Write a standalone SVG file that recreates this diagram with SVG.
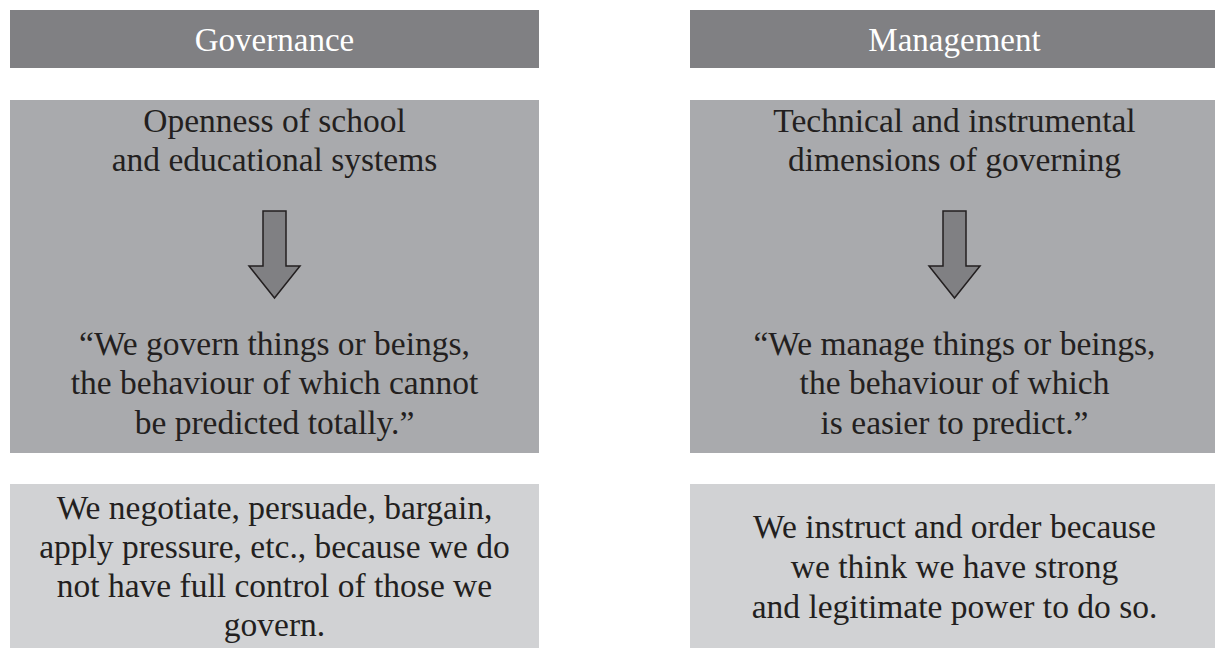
<svg xmlns="http://www.w3.org/2000/svg" width="1215" height="648" viewBox="0 0 1215 648">
<style>
.hdr{fill:#808083}
.mid{fill:#a9aaad}
.low{fill:#d1d2d4}
.ht{font-family:"Liberation Serif",serif;font-size:33px;fill:#ffffff;text-anchor:middle}
.bt{font-family:"Liberation Serif",serif;font-size:33.5px;fill:#231f20;text-anchor:middle}
.arr{fill:#808083;stroke:#231f20;stroke-width:1.5;stroke-linejoin:miter}
</style>
<rect width="1215" height="648" fill="#ffffff"/>
<g id="governance-header">
<rect class="hdr" x="10" y="10" width="529" height="58"/>
<text class="ht" x="274.5" y="51">Governance</text>
</g>
<g id="management-header">
<rect class="hdr" x="690" y="10" width="529" height="58"/>
<text class="ht" x="954.5" y="51">Management</text>
</g>
<g id="governance-main">
<rect class="mid" x="10" y="100" width="529" height="353"/>
<text class="bt" x="274.5" y="132">Openness of school</text>
<text class="bt" x="274.5" y="171">and educational systems</text>
<text class="bt" x="274.5" y="355">“We govern things or beings,</text>
<text class="bt" x="274.5" y="394">the behaviour of which cannot</text>
<text class="bt" x="274.5" y="434">be predicted totally.”</text>
</g>
<g id="management-main">
<rect class="mid" x="690" y="100" width="529" height="353"/>
<text class="bt" x="954.5" y="132">Technical and instrumental</text>
<text class="bt" x="954.5" y="171">dimensions of governing</text>
<text class="bt" x="954.5" y="355">“We manage things or beings,</text>
<text class="bt" x="954.5" y="394">the behaviour of which</text>
<text class="bt" x="954.5" y="434">is easier to predict.”</text>
</g>
<g id="governance-bottom">
<rect class="low" x="10" y="484" width="529" height="170"/>
<text class="bt" x="274.5" y="519">We negotiate, persuade, bargain,</text>
<text class="bt" x="274.5" y="558">apply pressure, etc., because we do</text>
<text class="bt" x="274.5" y="597">not have full control of those we</text>
<text class="bt" x="274.5" y="636">govern.</text>
</g>
<g id="management-bottom">
<rect class="low" x="690" y="484" width="529" height="170"/>
<text class="bt" x="954.5" y="538">We instruct and order because</text>
<text class="bt" x="954.5" y="578">we think we have strong</text>
<text class="bt" x="954.5" y="618">and legitimate power to do so.</text>
</g>
<g id="connectors">
<path class="arr" d="M263,211 H286 V266 H300 L274.5,298 L249,266 H263 Z"/>
<path class="arr" d="M943,211 H966 V266 H980 L954.5,298 L929,266 H943 Z"/>
</g>
</svg>
